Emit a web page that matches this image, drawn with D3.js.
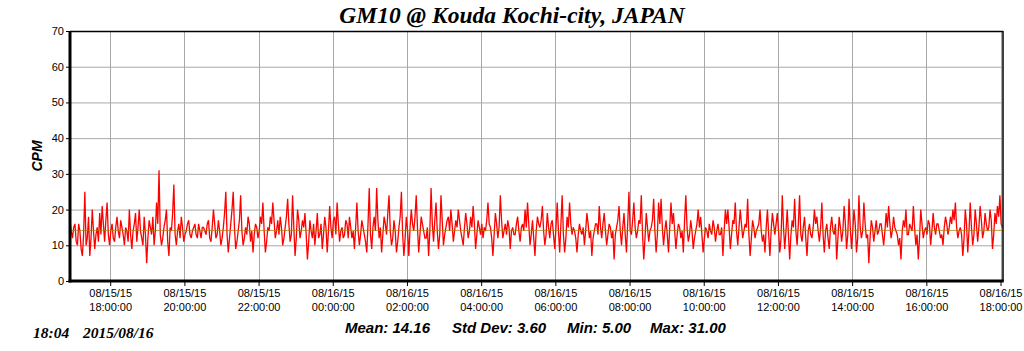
<!DOCTYPE html>
<html>
<head>
<meta charset="utf-8">
<script src="https://cdn.jsdelivr.net/npm/d3@7"></script>
<style>
  html, body { margin: 0; padding: 0; background: #fff; }
  svg { display: block; }
</style>
</head>
<body>
<div id="chart"></div>
<script>
// readings, one every 2 minutes from 08/15 16:55
const startTime = new Date(2015, 7, 15, 16, 55);
const stepMinutes = 2;
const cpm = [
  17,14,12,15,16,11,10,16,14,9,7,13,25,10,12,18,7,12,20,14,9,13,15,11,19,13,21,16,11,17,
  22,13,10,14,16,12,11,15,18,14,12,17,15,13,10,15,14,11,20,13,9,14,16,19,11,15,20,14,12,10,
  18,13,5,12,17,15,13,18,10,14,22,16,31,13,10,12,15,17,20,11,7,15,14,19,27,13,10,14,16,12,
  18,15,11,13,14,16,17,13,12,14,15,16,13,12,16,14,12,15,15,14,13,16,17,12,11,15,20,16,12,13,
  17,14,10,12,15,19,25,13,8,12,16,20,25,15,9,11,14,17,24,14,10,12,15,13,18,16,11,14,8,13,
  16,15,12,14,18,16,22,14,8,11,15,14,18,16,22,17,12,14,17,13,18,15,10,12,15,18,23,16,11,13,
  24,15,7,12,20,17,12,14,17,15,
  19,13,6,11,17,14,12,16,10,14,19,12,13,16,9,13,18,15,8,14,21,15,12,17,18,13,22,16,11,14,
  15,12,13,17,16,12,18,15,12,14,9,15,22,14,10,13,17,15,13,11,8,16,26,13,9,15,18,14,26,17,
  12,15,8,13,18,16,13,19,24,14,10,12,17,14,8,11,15,18,25,13,7,12,18,14,7,15,20,16,14,18,
  24,15,8,13,18,16,14,12,12,15,7,14,26,16,11,17,22,14,9,13,24,17,10,13,15,17,18,14,20,16,
  11,14,17,15,20,17,14,12,10,15,19,16,12,14,18,15,21,16,9,13,17,15,13,16,12,15,14,17,22,16,
  15,12,7,13,19,16,12,15,24,17,12,14,16,13,17,15,9,14,15,13,13,16,18,14,11,15,16,14,20,15,
  22,16,10,13,17,12,7,14,18,16,
  15,17,21,14,10,13,19,15,12,16,17,13,9,15,22,14,8,16,24,13,8,12,18,15,22,16,13,15,14,12,
  8,13,16,14,13,15,10,14,19,16,12,14,7,12,14,16,16,13,21,15,12,16,19,14,10,13,16,15,12,14,
  6,13,15,17,21,14,10,15,19,13,8,16,25,14,13,17,22,15,12,14,17,16,24,13,6,12,19,15,11,14,
  15,17,23,14,8,13,22,16,23,15,10,14,17,13,8,15,22,16,19,14,9,13,16,15,12,14,8,17,24,15,
  11,13,17,14,9,12,14,16,20,15,18,13,8,12,15,14,12,16,14,13,17,15,11,14,16,13,13,15,7,14,
  20,16,20,15,9,13,17,16,22,14,10,15,20,16,12,14,16,15,23,13,7,12,17,15,12,14,15,16,20,14,
  11,13,8,15,20,13,7,14,19,16,
  13,16,19,14,8,12,24,15,9,14,20,13,6,13,17,15,23,14,10,16,24,13,11,15,18,12,7,14,16,13,
  12,15,20,16,18,14,11,15,22,13,8,14,16,12,9,15,18,14,13,16,6,12,18,15,11,14,21,16,9,13,
  23,15,9,14,20,16,8,12,24,15,12,14,22,16,12,13,5,12,17,15,11,14,17,13,14,16,16,13,10,14,
  19,15,21,16,12,14,18,15,14,13,10,12,6,14,17,15,20,13,13,16,15,14,21,15,10,13,6,12,20,16,
  12,14,15,13,17,16,10,14,19,15,13,16,16,14,12,13,10,15,18,16,13,15,18,16,20,17,22,15,12,14,
  15,13,7,12,20,16,8,14,22,15,10,13,20,16,11,15,21,17,12,14,19,16,14,15,20,17,9,13,19,16,
  21,18,24,16,15
];
const meanValue = 14.16;
const statLabels = ["Mean: 14.16", "Std Dev: 3.60", "Min: 5.00", "Max: 31.00"];
const yTicks = [0, 10, 20, 30, 40, 50, 60, 70];
const titleText = "GM10 @ Kouda Kochi-city, JAPAN";
const stampText = ["18:04", "2015/08/16"];

const data = cpm.map((v, i) => ({ t: d3.timeMinute.offset(startTime, i * stepMinutes), v }));

const width = 1024, height = 351;
const margin = { top: 31, right: 21, bottom: 70, left: 70 };
const innerW = width - margin.left - margin.right;
const innerH = height - margin.top - margin.bottom;

const svg = d3.select("#chart").append("svg")
  .attr("width", width)
  .attr("height", height)
  .attr("viewBox", `0 0 ${width} ${height}`);

const root = svg.append("g").attr("transform", `translate(${margin.left}, ${margin.top})`);

const x = d3.scaleTime()
  .domain([new Date(2015, 7, 15, 16, 55), new Date(2015, 7, 16, 18, 4)])
  .range([0, innerW]);
const y = d3.scaleLinear().domain([0, 70]).range([innerH, 0]);

const xTicks = x.ticks(d3.timeHour.every(2));
const grid = "#a8a8a8";
const sans = "Arial, 'Liberation Sans', sans-serif";
const serif = "'Times New Roman', 'Liberation Serif', serif";

// grid
root.append("g").selectAll("line").data(yTicks).join("line")
  .attr("x1", 0).attr("x2", innerW)
  .attr("y1", (d) => y(d) + 0.5).attr("y2", (d) => y(d) + 0.5)
  .attr("stroke", grid).attr("stroke-width", 1);
root.append("g").selectAll("line").data(xTicks).join("line")
  .attr("x1", (d) => Math.round(x(d)) + 0.5).attr("x2", (d) => Math.round(x(d)) + 0.5)
  .attr("y1", 0).attr("y2", innerH)
  .attr("stroke", grid).attr("stroke-width", 1);

// series
const line = d3.line().x((d) => x(d.t)).y((d) => y(d.v));
root.append("path")
  .datum(data)
  .attr("fill", "none")
  .attr("stroke", "#ff0000")
  .attr("stroke-width", 1.3)
  .attr("d", line);

// mean line
root.append("line")
  .attr("x1", 0).attr("x2", innerW)
  .attr("y1", y(meanValue)).attr("y2", y(meanValue))
  .attr("stroke", "#b07a10").attr("stroke-width", 1).attr("opacity", 0.75);

// axes
root.append("g")
  .call(d3.axisLeft(y).tickValues(yTicks).tickSize(4).tickPadding(2))
  .call((g) => g.select(".domain").remove())
  .call((g) => g.selectAll("line").attr("stroke", "#000"))
  .call((g) => g.selectAll("text").attr("fill", "#000").attr("font-size", "11").attr("font-family", sans));

const xAxis = root.append("g")
  .attr("transform", `translate(0, ${innerH})`)
  .call(d3.axisBottom(x).tickValues(xTicks).tickSize(5).tickFormat(""))
  .call((g) => g.select(".domain").remove())
  .call((g) => g.selectAll("line").attr("stroke", "#000"));

xAxis.selectAll(".tick").append("text")
  .attr("fill", "#000").attr("font-size", "11").attr("font-family", sans)
  .attr("text-anchor", "middle")
  .selectAll("tspan")
  .data((d) => [d3.timeFormat("%m/%d/%y")(d), d3.timeFormat("%H:%M:%S")(d)])
  .join("tspan")
  .attr("x", 0)
  .attr("y", (d, i) => 16 + i * 14)
  .text((d) => d);

// frame
root.append("line").attr("x1", 0).attr("x2", innerW).attr("y1", 0.5).attr("y2", 0.5)
  .attr("stroke", "#000").attr("stroke-width", 1.5);
root.append("line").attr("x1", innerW).attr("x2", innerW).attr("y1", 0).attr("y2", innerH)
  .attr("stroke", "#000").attr("stroke-width", 1.5);
root.append("line").attr("x1", 0).attr("x2", 0).attr("y1", 0).attr("y2", innerH + 1.5)
  .attr("stroke", "#000").attr("stroke-width", 3);
root.append("line").attr("x1", -1.5).attr("x2", innerW + 0.75).attr("y1", innerH).attr("y2", innerH)
  .attr("stroke", "#000").attr("stroke-width", 3);

// labels
svg.append("text")
  .attr("x", 512).attr("y", 23)
  .attr("text-anchor", "middle")
  .attr("font-family", serif).attr("font-weight", "bold").attr("font-style", "italic")
  .attr("font-size", "23.5")
  .text(titleText);

svg.append("text")
  .attr("transform", `translate(42, ${margin.top + innerH / 2}) rotate(-90)`)
  .attr("text-anchor", "middle")
  .attr("font-family", sans).attr("font-weight", "bold").attr("font-style", "italic")
  .attr("font-size", "14")
  .text("CPM");

const statX = [345, 452, 567, 650];
svg.append("g").selectAll("text").data(statLabels).join("text")
  .attr("x", (d, i) => statX[i]).attr("y", 333)
  .attr("font-family", sans).attr("font-weight", "bold").attr("font-style", "italic")
  .attr("font-size", "15")
  .text((d) => d);

svg.append("g").selectAll("text").data(stampText).join("text")
  .attr("x", (d, i) => [33, 83][i]).attr("y", 338)
  .attr("font-family", serif).attr("font-weight", "bold").attr("font-style", "italic")
  .attr("font-size", "15.5")
  .text((d) => d);
</script>
</body>
</html>
